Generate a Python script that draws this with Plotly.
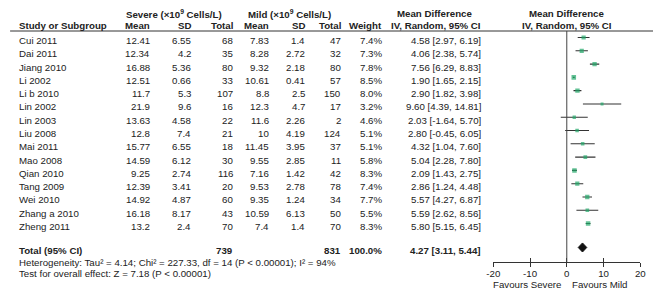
import plotly.graph_objects as go

# ---------------- data ----------------
studies = ["Cui 2011", "Dai 2011", "Jiang 2010", "Li 2002", "Li b 2010", "Lin 2002",
           "Lin 2003", "Liu 2008", "Mai 2011", "Mao 2008", "Qian 2010", "Tang 2009",
           "Wei 2010", "Zhang a 2010", "Zheng 2011"]
severe_mean = ["12.41", "12.34", "16.88", "12.51", "11.7", "21.9", "13.63", "12.8",
               "15.77", "14.59", "9.25", "12.39", "14.92", "16.18", "13.2"]
severe_sd = ["6.55", "4.2", "5.36", "0.66", "5.3", "9.6", "4.58", "7.4",
             "6.55", "6.12", "2.74", "3.41", "4.87", "8.17", "2.4"]
severe_n = [68, 35, 80, 33, 107, 16, 22, 21, 18, 30, 116, 20, 60, 43, 70]
mild_mean = ["7.83", "8.28", "9.32", "10.61", "8.8", "12.3", "11.6", "10",
             "11.45", "9.55", "7.16", "9.53", "9.35", "10.59", "7.4"]
mild_sd = ["1.4", "2.72", "2.18", "0.41", "2.5", "4.7", "2.26", "4.19",
           "3.95", "2.85", "1.42", "2.78", "1.24", "6.13", "1.4"]
mild_n = [47, 32, 80, 57, 150, 17, 2, 124, 37, 11, 42, 78, 34, 50, 70]
weights = [7.4, 7.3, 7.8, 8.5, 8.0, 3.2, 4.6, 5.1, 5.1, 5.8, 8.3, 7.4, 7.7, 5.5, 8.3]
md = [4.58, 4.06, 7.56, 1.90, 2.90, 9.60, 2.03, 2.80, 4.32, 5.04, 2.09, 2.86, 5.57, 5.59, 5.80]
ci_lo = [2.97, 2.38, 6.29, 1.65, 1.82, 4.39, -1.64, -0.45, 1.04, 2.28, 1.43, 1.24, 4.27, 2.62, 5.15]
ci_hi = [6.19, 5.74, 8.83, 2.15, 3.98, 14.81, 5.70, 6.05, 7.60, 7.80, 2.75, 4.48, 6.87, 8.56, 6.45]
total_md, total_lo, total_hi = 4.27, 3.11, 5.44
total_severe_n, total_mild_n = 739, 831
x_ticks = [-20, -10, 0, 10, 20]

# ---------------- layout helpers ----------------
OFF = 8                       # page body margin in the browser
W, H = 661 - OFF, 300 - OFF   # figure size so that it fills the window exactly
ROW0, ROWH = 37.5, 13.29      # screen pixel y of first row marker, row height
TOTAL_ROW = 15.8
y_top = -(ROW0 - OFF) / ROWH
y_bot = (300 - ROW0) / ROWH
FONT = "Liberation Sans, Arial, sans-serif"
TXT = "#222222"
FS = 9.7


def px(x):
    return (x - OFF) / W


def py(y):
    return 1 - (y - OFF) / H


rows = list(range(len(studies)))
fig = go.Figure()

# CI lines + study markers
fig.add_trace(go.Scatter(
    x=md, y=rows, mode="markers",
    marker=dict(symbol="square", color="#22a86a", size=[2.0 + 0.3 * w for w in weights],
                line=dict(width=0)),
    error_x=dict(type="data", symmetric=False,
                 array=[h - m for h, m in zip(ci_hi, md)],
                 arrayminus=[m - l for m, l in zip(md, ci_lo)],
                 width=0, thickness=1.1, color="#333333"),
    hoverinfo="skip", showlegend=False))

# total diamond
dh = 0.34
fig.add_trace(go.Scatter(
    x=[total_lo, total_md, total_hi, total_md, total_lo],
    y=[TOTAL_ROW, TOTAL_ROW - dh, TOTAL_ROW, TOTAL_ROW + dh, TOTAL_ROW],
    mode="lines", fill="toself", fillcolor="#111111",
    line=dict(color="#111111", width=1), hoverinfo="skip", showlegend=False))

# dummy trace for crossing ticks axis
fig.add_trace(go.Scatter(x=[None], y=[None], xaxis="x2", yaxis="y",
                         showlegend=False, hoverinfo="skip"))

ann = []


def add(text, x, y, xanchor="left", bold=False, xref="paper", yref="y", yshift=-3, size=FS):
    if bold:
        text = "<b>" + text + "</b>"
    ann.append(dict(text=text, x=x, y=y, xref=xref, yref=yref, xanchor=xanchor,
                    yanchor="middle", showarrow=False, yshift=yshift,
                    font=dict(family=FONT, size=size, color=TXT)))


# column right edges (screen pixels)
C_SM, C_SSD, C_SN = 148, 190, 232
C_MM, C_MSD, C_MN = 269, 306, 343
C_W, C_MD = 384, 485

for i, s in enumerate(studies):
    add(s, px(10), i)
    add(severe_mean[i], px(C_SM), i, "right")
    add(severe_sd[i], px(C_SSD), i, "right")
    add(str(severe_n[i]), px(C_SN), i, "right")
    add(mild_mean[i], px(C_MM), i, "right")
    add(mild_sd[i], px(C_MSD), i, "right")
    add(str(mild_n[i]), px(C_MN), i, "right")
    add(f"{weights[i]:.1f}%", px(C_W), i, "right")
    add(f"{md[i]:.2f} [{ci_lo[i]:.2f}, {ci_hi[i]:.2f}]", px(C_MD), i, "right")

# total row
add("Total (95% CI)", px(10), TOTAL_ROW, bold=True)
add(str(total_severe_n), px(C_SN), TOTAL_ROW, "right", bold=True)
add(str(total_mild_n), px(C_MN), TOTAL_ROW, "right", bold=True)
add(f"{sum(weights):.1f}%", px(C_W), TOTAL_ROW, "right", bold=True)
add(f"{total_md:.2f} [{total_lo:.2f}, {total_hi:.2f}]", px(C_MD), TOTAL_ROW, "right", bold=True)

add("Heterogeneity: Tau² = 4.14; Chi² = 227.33, df = 14 (P < 0.00001); I² = 94%",
    px(10), py(262), yref="paper", yshift=0)
add("Test for overall effect: Z = 7.18 (P < 0.00001)", px(10), py(273), yref="paper", yshift=0)

# headers
H1, H2 = 14, 25.5
add("Severe (×10<sup>9</sup> Cells/L)", px(170), py(H1), "center", bold=True, yref="paper", yshift=0)
add("Mild (×10<sup>9</sup> Cells/L)", px(288), py(H1), "center", bold=True, yref="paper", yshift=0)
add("Mean Difference", px(436), py(H1), "center", bold=True, yref="paper", yshift=0)
add("Mean Difference", 0, py(H1), "center", bold=True, xref="x", yref="paper", yshift=0)
add("Study or Subgroup", px(10), py(H2), bold=True, yref="paper", yshift=0)
add("Mean", px(C_SM), py(H2), "right", bold=True, yref="paper", yshift=0)
add("SD", px(C_SSD), py(H2), "right", bold=True, yref="paper", yshift=0)
add("Total", px(C_SN), py(H2), "right", bold=True, yref="paper", yshift=0)
add("Mean", px(C_MM), py(H2), "right", bold=True, yref="paper", yshift=0)
add("SD", px(C_MSD), py(H2), "right", bold=True, yref="paper", yshift=0)
add("Total", px(C_MN), py(H2), "right", bold=True, yref="paper", yshift=0)
add("Weight", px(C_W), py(H2), "right", bold=True, yref="paper", yshift=0)
add("IV, Random, 95% CI", px(C_MD), py(H2), "right", bold=True, yref="paper", yshift=0)
add("IV, Random, 95% CI", 0, py(H2), "center", bold=True, xref="x", yref="paper", yshift=0)

# favours labels
add("Favours Severe", -1.0, py(284.5), "right", xref="x", yref="paper", yshift=0)
add("Favours Mild", 1.0, py(284.5), "left", xref="x", yref="paper", yshift=0)

AX_POS = py(262)
dom = [px(496), px(646)]

shapes = [
    # header underline
    dict(type="line", xref="paper", yref="paper", x0=px(3), x1=1, y0=py(31), y1=py(31),
         line=dict(color="#333333", width=1)),
    # zero line
    dict(type="line", xref="x", yref="paper", x0=0, x1=0, y0=py(31), y1=AX_POS,
         line=dict(color="#444444", width=1)),
]

fig.update_layout(
    width=W, height=H, margin=dict(l=0, r=0, t=0, b=0),
    paper_bgcolor="white", plot_bgcolor="rgba(0,0,0,0)",
    annotations=ann, shapes=shapes, showlegend=False,
    xaxis=dict(domain=dom, range=[-20, 20], anchor="free", position=AX_POS,
               showgrid=False, zeroline=False, showline=True, linecolor="#333333",
               linewidth=1, ticks="outside", ticklen=4, tickcolor="#333333",
               ticklabelstandoff=-2,
               tickvals=x_ticks, ticktext=[str(t) for t in x_ticks],
               tickfont=dict(family=FONT, size=FS, color=TXT), fixedrange=True),
    xaxis2=dict(domain=dom, range=[-20, 20], overlaying="x", anchor="free", position=AX_POS,
                showgrid=False, zeroline=False, showline=False, ticks="inside", ticklen=4,
                tickcolor="#333333", tickvals=x_ticks, showticklabels=False),
    yaxis=dict(domain=[0, 1], range=[y_bot, y_top], visible=False, showgrid=False,
               zeroline=False, fixedrange=True),
)

fig.write_html("out.html")
